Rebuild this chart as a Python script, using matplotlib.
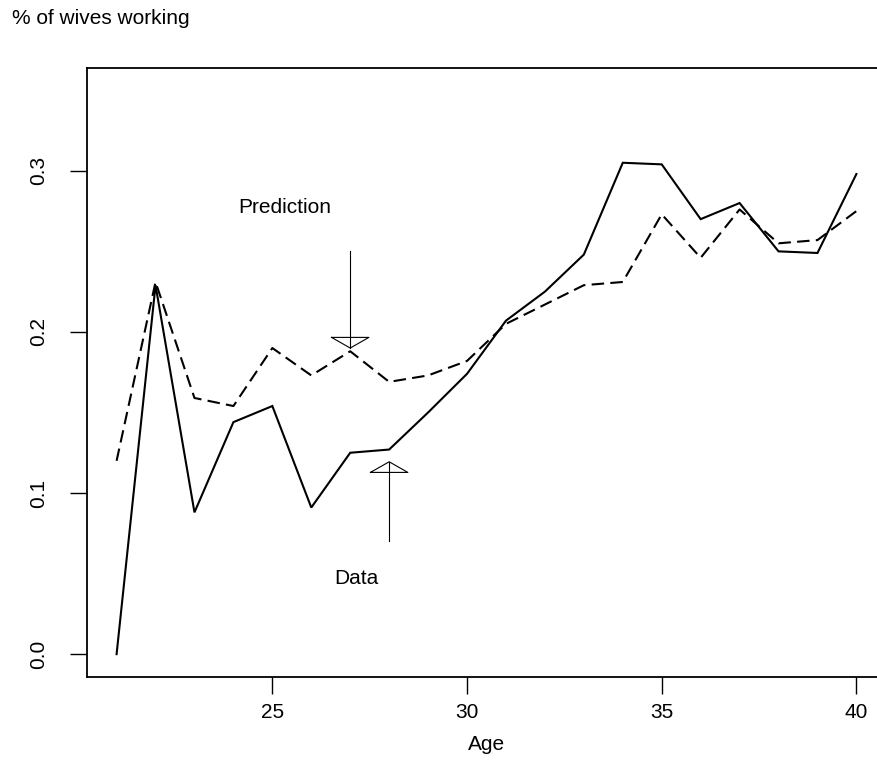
import matplotlib
matplotlib.use("Agg")
import matplotlib.pyplot as plt

plt.rcParams['font.family'] = ['Liberation Sans', 'DejaVu Sans']

ages = list(range(21, 41))
data_pct = [0.000, 0.229, 0.088, 0.144, 0.154, 0.091, 0.125, 0.127, 0.150, 0.174,
            0.207, 0.225, 0.248, 0.305, 0.304, 0.270, 0.280, 0.250, 0.249, 0.298]
pred_pct = [0.120, 0.231, 0.159, 0.154, 0.190, 0.173, 0.188, 0.169, 0.173, 0.182,
            0.205, 0.217, 0.229, 0.231, 0.273, 0.246, 0.276, 0.255, 0.257, 0.275]
xticks = [25, 30, 35, 40]
yticks = [0.0, 0.1, 0.2, 0.3]
ytick_labels = ["0.0", "0.1", "0.2", "0.3"]

FS = 15

W, H = 878, 760
fig = plt.figure(figsize=(W / 100, H / 100), dpi=100)
left, right, top, bottom = 87, 886, 67.7, 676.7
ax = fig.add_axes([left / W, 1 - bottom / H, (right - left) / W, (bottom - top) / H])

ax.plot(ages, data_pct, color='black', lw=1.5, solid_joinstyle='miter')
ln, = ax.plot(ages, pred_pct, color='black', lw=1.5)
ln.set_dashes((6, 3))

ax.set_xlim(20.24, 40.76)
ax.set_ylim(-0.014, 0.364)
ax.set_xticks(xticks)
ax.set_yticks(yticks)
ax.set_yticklabels(ytick_labels, rotation=90, va='center')
ax.tick_params(direction='out', length=12, width=1.0, labelsize=FS, pad=7)
ax.tick_params(axis='y', pad=16)
for s in ax.spines.values():
    s.set_linewidth(1.3)

ax.set_xlabel("Age", fontsize=FS, labelpad=9)

fig.text(12 / W, 1 - 18 / H, "% of wives working", fontsize=FS, ha='left', va='center')

# annotations
ax.text(25.31, 0.277, "Prediction", fontsize=FS, ha='center', va='center')
ax.text(27.16, 0.047, "Data", fontsize=FS, ha='center', va='center')

hw, hl = 0.48, 0.0066

# Prediction arrow (pointing down)
px, ptop, ptip = 27.0, 0.250, 0.190
ax.plot([px, px], [ptop, ptip], color='black', lw=0.8)
ax.plot([px - hw, px + hw, px, px - hw], [ptip + hl, ptip + hl, ptip, ptip + hl],
        color='black', lw=0.8)

# Data arrow (pointing up)
dx, dbot, dtip = 28.0, 0.070, 0.1194
ax.plot([dx, dx], [dbot, dtip], color='black', lw=0.8)
ax.plot([dx - hw, dx + hw, dx, dx - hw], [dtip - hl, dtip - hl, dtip, dtip - hl],
        color='black', lw=0.8)

fig.savefig("out.png", dpi=100)
